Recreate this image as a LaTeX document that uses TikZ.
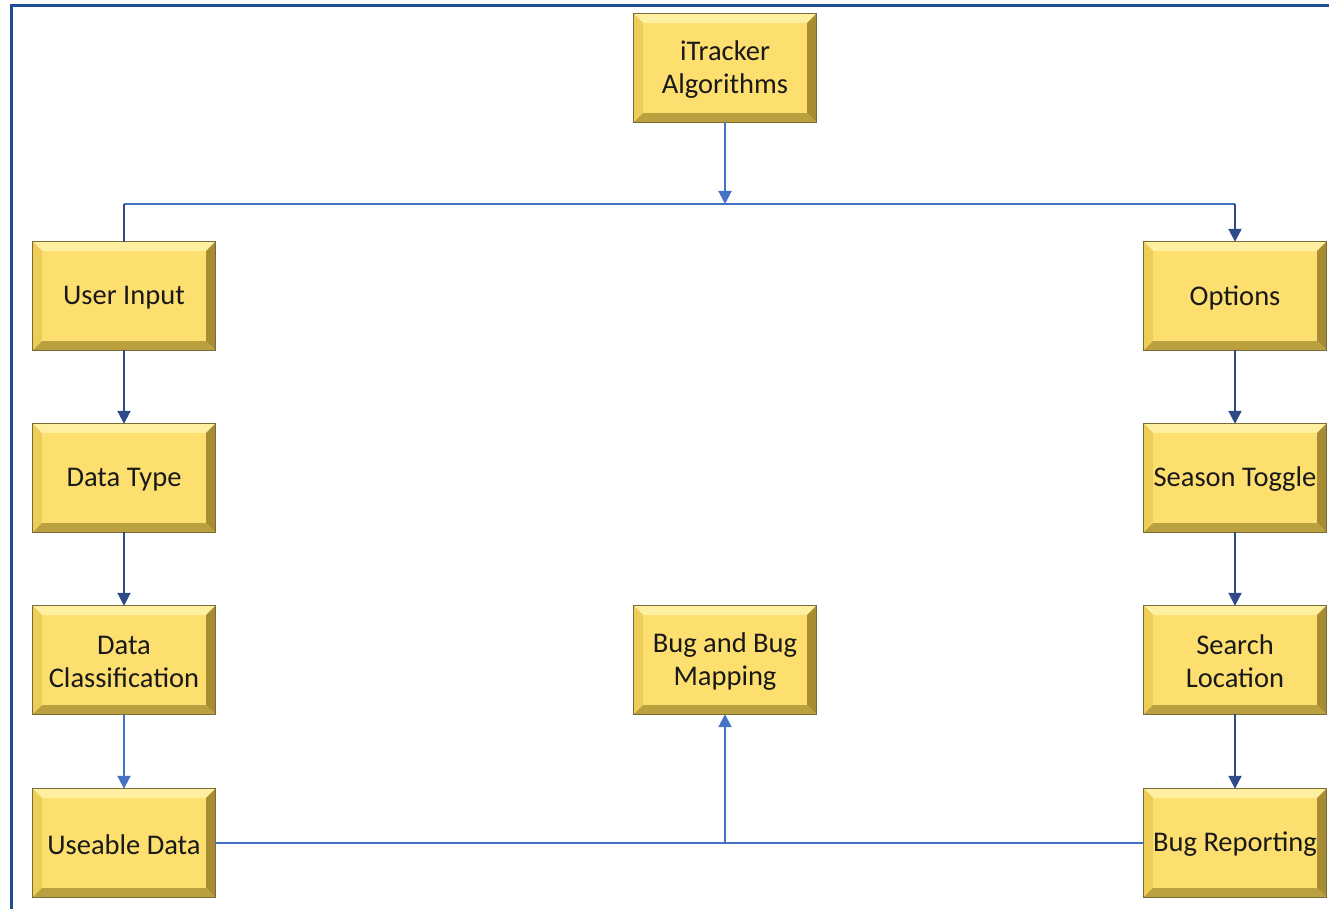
\documentclass[tikz,border=0pt]{standalone}
\usepackage{fontspec}
\setmainfont{Carlito}
\usetikzlibrary{arrows.meta}
\definecolor{frameblue}{HTML}{1F4E99}
\definecolor{linkblue}{HTML}{4472C4}
\definecolor{linknavy}{HTML}{2E4A87}
\definecolor{boxface}{HTML}{FCDF6E}
\definecolor{bevtop}{HTML}{FFEFA0}
\definecolor{bevleft}{HTML}{EDCC58}
\definecolor{bevright}{HTML}{A88C33}
\definecolor{bevbottom}{HTML}{BBA03F}
\definecolor{boxedge}{HTML}{7A6A35}
\tikzset{
  x=1pt, y=-1pt,
  box/.style={rectangle, minimum width=182pt, minimum height=108pt, inner sep=0pt,
    fill=boxface},
  boxtext/.style={align=center, text=black!90, font=\fontsize{28.5}{33}\selectfont},
  lightlink/.style={draw=linkblue, line width=2pt},
  navylink/.style={draw=linknavy, line width=2pt},
  tip/.style={-{Triangle[width=13pt,length=13pt]}},
}
% bevelled block: name, centre x, centre y, label
\newcommand\bevelbox[4]{%
  \node[box] (#1) at (#2,#3) {};
  \fill[bevtop] (#1.north west) -- (#1.north east) -- ([shift={(-9,9)}]#1.north east) -- ([shift={(9,9)}]#1.north west) -- cycle;
  \fill[bevleft] (#1.north west) -- ([shift={(9,9)}]#1.north west) -- ([shift={(9,-9)}]#1.south west) -- (#1.south west) -- cycle;
  \fill[bevright] (#1.north east) -- ([shift={(-9,9)}]#1.north east) -- ([shift={(-9,-9)}]#1.south east) -- (#1.south east) -- cycle;
  \fill[bevbottom] (#1.south west) -- ([shift={(9,-9)}]#1.south west) -- ([shift={(-9,-9)}]#1.south east) -- (#1.south east) -- cycle;
  \draw[boxedge, line width=1pt] (#1.north west) rectangle (#1.south east);
  \node[boxtext] (#1-label) at ([yshift=-1.5pt]#1.center) {#4};
}
\begin{document}
\begin{tikzpicture}
\useasboundingbox (0,0) rectangle (1329,909);
\fill[white] (0,0) rectangle (1329,909);
% outer frame
\draw[frameblue, line width=3.5pt] (11.5,911) -- (11.5,5.5) -- (1332,5.5);

\bevelbox{it}{725}{68}{iTracker\\Algorithms}
\bevelbox{ui}{124}{296}{User Input}
\bevelbox{dt}{124}{478}{Data Type}
\bevelbox{dc}{124}{660}{Data\\Classification}
\bevelbox{ud}{124}{843}{Useable Data}
\bevelbox{op}{1235}{296}{Options}
\bevelbox{st}{1235}{478}{Season Toggle}
\bevelbox{sl}{1235}{660}{Search\\Location}
\bevelbox{br}{1235}{843}{Bug Reporting}
\bevelbox{bm}{725}{660}{Bug and Bug\\Mapping}

\coordinate (bus) at (725,204);
% top distribution
\draw[lightlink, tip] (it.south) -- (bus);
\draw[lightlink] (ui.north |- bus) -- (op.north |- bus);
\draw[navylink] (ui.north |- bus) -- (ui.north);
\draw[navylink, tip] (op.north |- bus) -- (op.north);
% left column
\draw[navylink, tip] (ui.south) -- (dt.north);
\draw[navylink, tip] (dt.south) -- (dc.north);
\draw[lightlink, tip] (dc.south) -- (ud.north);
% right column
\draw[navylink, tip] (op.south) -- (st.north);
\draw[navylink, tip] (st.south) -- (sl.north);
\draw[navylink, tip] (sl.south) -- (br.north);
% bottom link
\draw[lightlink] (ud.east) -- (br.west);
\draw[lightlink, tip] (bm.south |- ud.east) -- (bm.south);
\end{tikzpicture}
\end{document}
